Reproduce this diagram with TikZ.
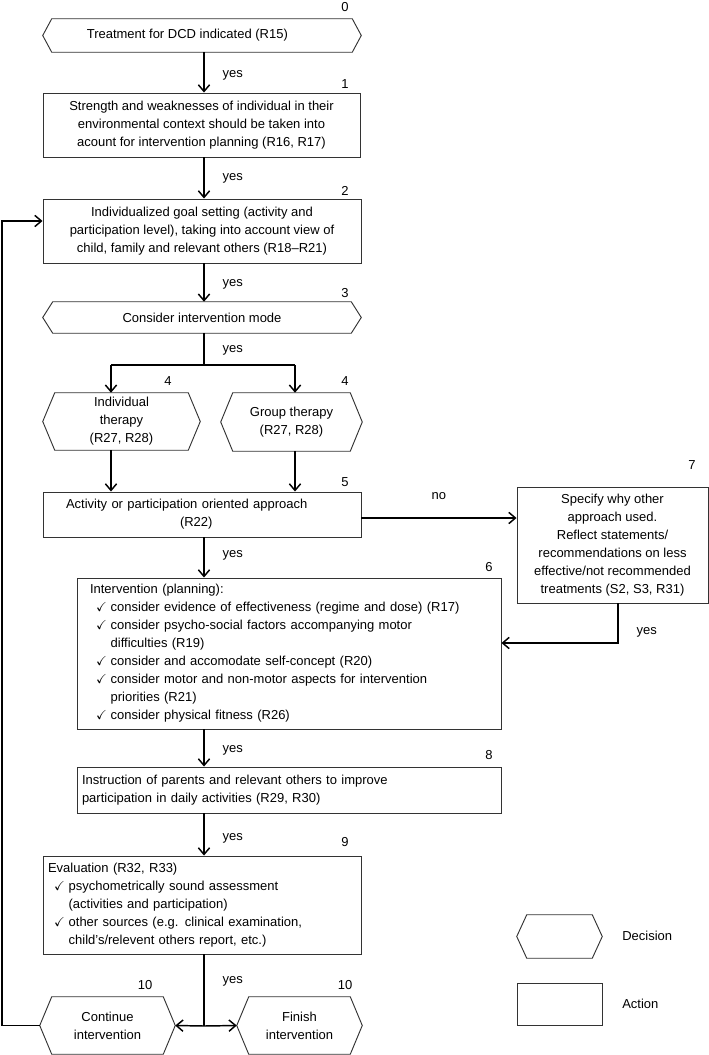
\documentclass[tikz,border=0pt]{standalone}
\usepackage{fontspec}
\usepackage{amssymb}
\setmainfont{Liberation Sans}
\usetikzlibrary{arrows.meta}

% tick items in the lists
\newcommand{\tick}{\hspace*{4.5pt}\makebox[11pt][l]{$\checkmark$}}
\newcommand{\tickgap}{\hspace*{15.5pt}}
% hexagon outline round a decision node
\newcommand{\hexframe}[2]{%
  \draw[boxline] (#1.west) -- ([xshift=#2]#1.north west) -- ([xshift=-#2]#1.north east)
    -- (#1.east) -- ([xshift=-#2]#1.south east) -- ([xshift=#2]#1.south west) -- cycle;}

\tikzset{
  boxline/.style={draw=black!80, line width=0.7pt},
  action/.style={boxline, rectangle, inner sep=0pt, align=center},
  decision/.style={rectangle, inner sep=0pt, align=center},
  flow/.style={line width=1.1pt, -{Straight Barb[length=5pt,width=8.5pt]}},
  conn/.style={line width=1.1pt},
  yeslbl/.style={anchor=west, inner sep=0pt, xshift=13.5pt},
  numlbl/.style={inner sep=0pt},
}

\begin{document}
\begin{tikzpicture}[x=0.75pt, y=-0.75pt, font=\fontsize{9.75}{13.5}\selectfont]
  \useasboundingbox (0,0) rectangle (709,1055);

  % Main column
  \node[decision, minimum width=238.5pt, minimum height=24.75pt] (n0) at (202,35.5) {\hspace*{-22pt}Treatment for DCD indicated (R15)};
  \hexframe{n0}{6.75pt}
  \node[action, minimum width=237.75pt, minimum height=48pt] (n1) at (201.5,125) {Strength and weaknesses of individual in their\\environmental context should be taken into\\acount for intervention planning (R16, R17)};
  \node[action, minimum width=238.5pt, minimum height=48pt] (n2) at (202,231) {Individualized goal setting (activity and\\participation level), taking into account view of\\child, family and relevant others (R18--R21)};
  \node[decision, minimum width=238.5pt, minimum height=23.25pt] (n3) at (202,317.5) {Consider intervention mode};
  \hexframe{n3}{7.5pt}

  % Intervention mode
  \node[decision, minimum width=117.75pt, minimum height=42.75pt] (n4a) at (121.5,421.5) {Individual\\therapy\\(R27, R28)};
  \hexframe{n4a}{9pt}
  \node[decision, minimum width=105.75pt, minimum height=43.5pt] (n4b) at (291.5,422) {Group therapy\\(R27, R28)};
  \hexframe{n4b}{9pt}

  \node[action, align=left, text width=204pt, inner xsep=17.25pt, minimum height=33.75pt] (n5) at (202,514.5) {Activity or participation oriented approach\\\hspace*{85.5pt}(R22)};
  \node[action, minimum width=143.25pt, minimum height=87pt] (n7) at (612.5,545) {Specify why other\\approach used.\\Reflect statements/\\recommendations on less\\effective/not recommended\\treatments (S2, S3, R31)};
  \node[action, align=left, text width=298.5pt, inner xsep=9.75pt, minimum height=113.25pt] (n6) at (289,653.5) {Intervention (planning):\\
    \tick consider evidence of effectiveness (regime and dose) (R17)\\
    \tick consider psycho-social factors accompanying motor\\
    \tickgap difficulties (R19)\\
    \tick consider and accomodate self-concept (R20)\\
    \tick consider motor and non-motor aspects for intervention\\
    \tickgap priorities (R21)\\
    \tick consider physical fitness (R26)};
  \node[action, align=left, text width=310.5pt, inner xsep=3.75pt, minimum height=34.5pt] (n8) at (289,790) {Instruction of parents and relevant others to improve\\participation in daily activities (R29, R30)};
  \node[action, align=left, text width=231pt, inner xsep=3.75pt, minimum height=73.5pt] (n9) at (202,905) {Evaluation (R32, R33)\\
    \tick psychometrically sound assessment\\
    \tickgap (activities and participation)\\
    \tick other sources (e.g. clinical examination,\\
    \tickgap child's/relevent others report, etc.)};

  % End of the loop
  \node[decision, minimum width=101.25pt, minimum height=42.75pt] (n10a) at (107.5,1025.5) {Continue\\intervention};
  \hexframe{n10a}{9pt}
  \node[decision, minimum width=93.75pt, minimum height=42.75pt] (n10b) at (299.5,1025.5) {Finish\\intervention};
  \hexframe{n10b}{9pt}

  % Legend
  \node[decision, minimum width=63.75pt, minimum height=32.25pt] (dec) at (559.5,936.5) {};
  \hexframe{dec}{7.5pt}
  \node[action, minimum width=63.75pt, minimum height=31.5pt] (act) at (559.5,1004) {};
  \node[anchor=west, inner sep=0pt] (decl) at (622,936) {Decision};
  \node[anchor=west, inner sep=0pt] (actl) at (622,1004) {Action};

  % Step numbers
  \node[numlbl] (l0) at (345,7) {0};
  \node[numlbl] (l1) at (345,84) {1};
  \node[numlbl] (l2) at (345,191) {2};
  \node[numlbl] (l3) at (345,293) {3};
  \node[numlbl] (l4a) at (168,381) {4};
  \node[numlbl] (l4b) at (345,381) {4};
  \node[numlbl] (l5) at (345,482) {5};
  \node[numlbl] (l6) at (489,567) {6};
  \node[numlbl] (l7) at (692,465) {7};
  \node[numlbl] (l8) at (489,755) {8};
  \node[numlbl] (l9) at (345,842) {9};
  \node[numlbl] (l10a) at (145,985) {10};
  \node[numlbl] (l10b) at (345,985) {10};

  % Connectors
  \coordinate (ax) at (204,0);
  \coordinate (j3) at (204,365);
  \coordinate (j4a) at (111,365);
  \coordinate (j4b) at (295,365);
  \coordinate (c5) at (361,518);
  \coordinate (c7) at (618,643);
  \coordinate (j9) at (204,1026);
  \coordinate (lp) at (2,221);

  \draw[flow] (n0.south -| ax) -- (n1.north -| ax) node[yeslbl, pos=0.58] {yes};
  \draw[flow] (n1.south -| ax) -- (n2.north -| ax) node[yeslbl, pos=0.5] {yes};
  \draw[flow] (n2.south -| ax) -- (n3.north -| ax) node[yeslbl, pos=0.55] {yes};
  \draw[conn] (n3.south -| ax) -- (j3) node[yeslbl, pos=0.55] {yes};
  \draw[conn] (j4a) -- (j4b);
  \draw[flow] (j4a) -- (j4a |- n4a.north);
  \draw[flow] (j4b) -- (j4b |- n4b.north);
  \draw[flow] (n4a.south -| j4a) -- (n5.north -| j4a);
  \draw[flow] (n4b.south -| j4b) -- (n5.north -| j4b);
  \draw[flow] (c5) -- (c5 -| n7.west) node[midway, above=13pt, inner sep=0pt] {no};
  \draw[flow] (n5.south -| ax) -- (n6.north -| ax) node[yeslbl, pos=0.45] {yes};
  \draw[flow] (n7.south -| c7) -- (c7) node[yeslbl, pos=0.72] {yes} -- (c7 -| n6.east);
  \draw[flow] (n6.south -| ax) -- (n8.north -| ax) node[yeslbl, pos=0.55] {yes};
  \draw[flow] (n8.south -| ax) -- (n9.north -| ax) node[yeslbl, pos=0.6] {yes};
  \draw[conn] (n9.south -| ax) -- (j9) node[yeslbl, pos=0.37] {yes};
  \draw[flow] (j9) -- (n10a.east);
  \draw[flow] (j9) -- (n10b.west);
  \draw[flow] (n10a.west) -- (n10a.west -| lp) -- (lp) -- (lp -| n2.west);
\end{tikzpicture}
\end{document}
